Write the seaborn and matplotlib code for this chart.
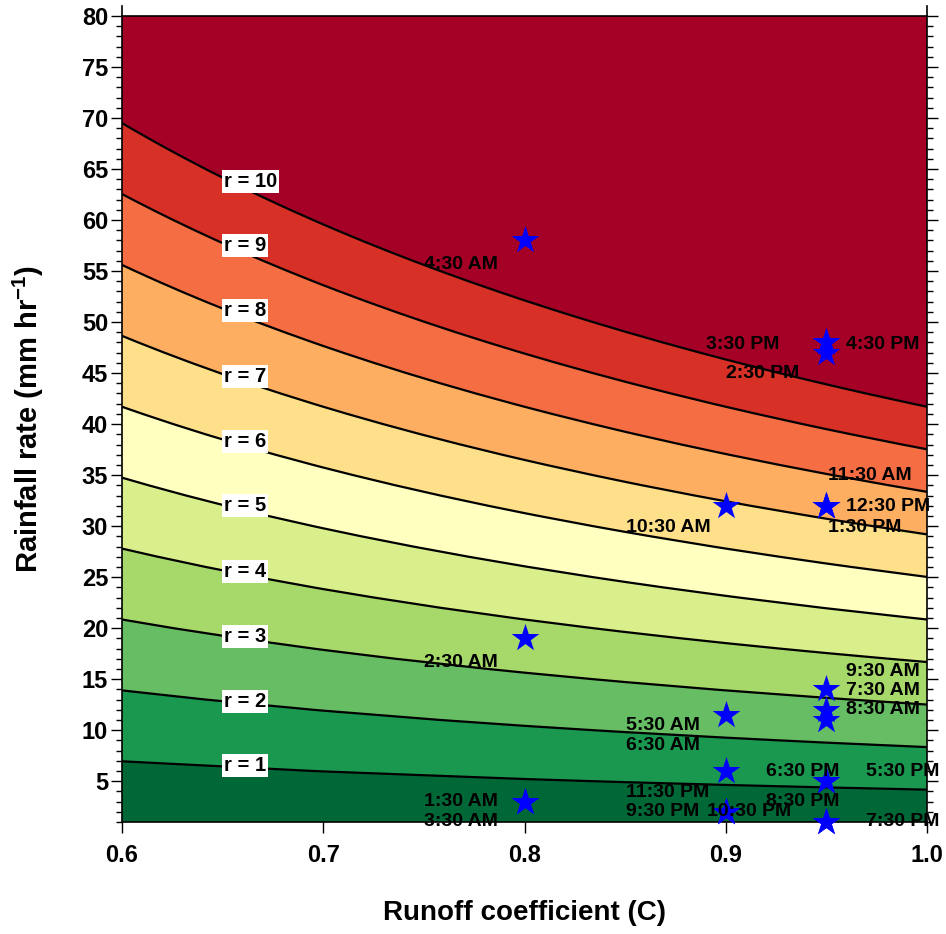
import numpy as np
import pandas as pd
import matplotlib
matplotlib.use("Agg")
import matplotlib.pyplot as plt
import seaborn as sns
from matplotlib.ticker import MultipleLocator

# ---------------- data ----------------
# contour field r = C * R / k
runoff_grid = [0.6, 0.7, 0.8, 0.85, 0.9, 0.95, 1.0]
rain_grid = list(range(1, 81))
ratio_k = 4.17
r_levels = [0, 1, 2, 3, 4, 5, 6, 7, 8, 9, 10, 1000]
r_line_levels = [1, 2, 3, 4, 5, 6, 7, 8, 9, 10]
r_label_C = [0.6505] * 10
r_label_R = [6.5, 12.8, 19.2, 25.6, 32.0, 38.3, 44.7, 51.1, 57.5, 63.8]

# observations
times = ["1:30 AM", "2:30 AM", "3:30 AM", "4:30 AM", "5:30 AM", "6:30 AM",
         "7:30 AM", "8:30 AM", "9:30 AM", "10:30 AM", "11:30 AM", "12:30 PM",
         "1:30 PM", "2:30 PM", "3:30 PM", "4:30 PM", "5:30 PM", "6:30 PM",
         "7:30 PM", "8:30 PM", "9:30 PM", "10:30 PM", "11:30 PM"]
obs_C = [0.8, 0.8, 0.8, 0.8, 0.9, 0.9,
         0.95, 0.95, 0.95, 0.9, 0.95, 0.95,
         0.95, 0.95, 0.95, 0.95, 0.95, 0.95,
         0.95, 0.95, 0.9, 0.9, 0.9]
obs_R = [3, 19, 3, 58, 11.5, 6,
         12, 11, 14, 32, 32, 32,
         32, 47, 48, 48, 5, 5,
         1, 1, 2, 2, 2]
# label offsets in pixels (right, down)
label_dx = [-100, -100, -100, -100, -100, -100,
            20, 20, 20, -100, 2, 20,
            2, -100, -120, 20, 40, -60,
            40, -60, -100, -19, -100]
label_dy = [0, 24, 20, 24, 11, -25,
            -19, -10, -18, 22, -30, 1,
            22, 21, 2, 2, -10, -10,
            0, -20, 0, 0, -19]

band_colors = ["#006837", "#1a9850", "#66bd63", "#a6d96a", "#d9ef8b", "#ffffbf",
               "#fee08b", "#fdae61", "#f46d43", "#d73027", "#a50026"]

# ---------------- style ----------------
sns.set_theme(style="ticks")
plt.rcParams["font.family"] = ["Liberation Sans", "DejaVu Sans"]
plt.rcParams["font.weight"] = "bold"
plt.rcParams["text.color"] = "black"
plt.rcParams["axes.labelcolor"] = "black"
plt.rcParams["xtick.color"] = "black"
plt.rcParams["ytick.color"] = "black"
plt.rcParams["mathtext.fontset"] = "custom"
plt.rcParams["mathtext.rm"] = "Liberation Sans:bold"
plt.rcParams["mathtext.bf"] = "Liberation Sans:bold"
plt.rcParams["mathtext.it"] = "Liberation Sans:bold"

fig = plt.figure(figsize=(9.46, 9.34), dpi=100)
ax = fig.add_axes([122 / 946, 1 - 822 / 934, 805 / 946, 806 / 934])

CC, RR = np.meshgrid(np.array(runoff_grid), np.array(rain_grid, dtype=float))
ZZ = CC * RR / ratio_k

ax.contourf(CC, RR, ZZ, levels=r_levels, colors=band_colors)
cs = ax.contour(CC, RR, ZZ, levels=r_line_levels, colors="black", linewidths=1.6)
label_pos = list(zip(r_label_C, r_label_R))
clab = ax.clabel(cs, inline=False, fmt={lv: f"r = {lv}" for lv in r_line_levels},
                 manual=label_pos, fontsize=14.5, colors="black")
for t in clab:
    t.set_rotation(0)
    t.set_fontweight("bold")
    t.set_color("black")
    t.set_ha("left")
    t.set_va("center")
    t.set_bbox(dict(boxstyle="square,pad=0.1", fc="white", ec="none"))
    lv = int(float(t.get_text().split("=")[1]))
    t.set_position(label_pos[r_line_levels.index(lv)])

obs = pd.DataFrame({"time": times, "C": obs_C, "R": obs_R})
sns.scatterplot(data=obs, x="C", y="R", marker="*", s=440, color="blue",
                edgecolor="blue", linewidth=0, ax=ax, zorder=5, clip_on=False)

for t, c, r, dx, dy in zip(times, obs_C, obs_R, label_dx, label_dy):
    ax.annotate(t, xy=(c, r), xytext=(dx, -dy), textcoords="offset pixels",
                ha="left", va="center", fontsize=14, fontweight="bold",
                color="black", zorder=6, annotation_clip=False)

ax.set_xlim(0.6, 1.0)
ax.set_ylim(1, 80)
ax.set_xticks([0.6, 0.7, 0.8, 0.9, 1.0])
ax.set_xticklabels(["0.6", "0.7", "0.8", "0.9", "1.0"])
ax.yaxis.set_major_locator(MultipleLocator(5))
ax.yaxis.set_minor_locator(MultipleLocator(1))
ax.set_yticks([5, 10, 15, 20, 25, 30, 35, 40, 45, 50, 55, 60, 65, 70, 75, 80])

ax.tick_params(axis="x", which="major", direction="out", length=8, width=1,
               labelsize=17, pad=8, top=False, bottom=True, colors="black")
ax.tick_params(axis="y", which="major", direction="out", length=8, width=1,
               labelsize=17, pad=2, left=True, right=True, colors="black")
ax.tick_params(axis="y", which="minor", direction="out", length=4, width=1,
               left=True, right=True, colors="black")
for lab in ax.get_xticklabels() + ax.get_yticklabels():
    lab.set_fontweight("bold")
    lab.set_color("black")

for side in ["left", "right", "top", "bottom"]:
    ax.spines[side].set_linewidth(1.2)
    ax.spines[side].set_color("black")
ax.spines["left"].set_bounds(1, 81)
ax.spines["right"].set_bounds(1, 81)

ax.set_xlabel("Runoff coefficient (C)", fontsize=20, fontweight="bold", color="black")
ax.set_ylabel(r"Rainfall rate (mm hr$^{-1}$)", fontsize=21, fontweight="bold", color="black")
ax.xaxis.label.set_va("center")
ax.yaxis.label.set_va("center")
ax.xaxis.set_label_coords(0.5, (822 - 913) / 806)
ax.yaxis.set_label_coords((28 - 122) / 805, 0.5)

fig.savefig("out.png", dpi=100)
